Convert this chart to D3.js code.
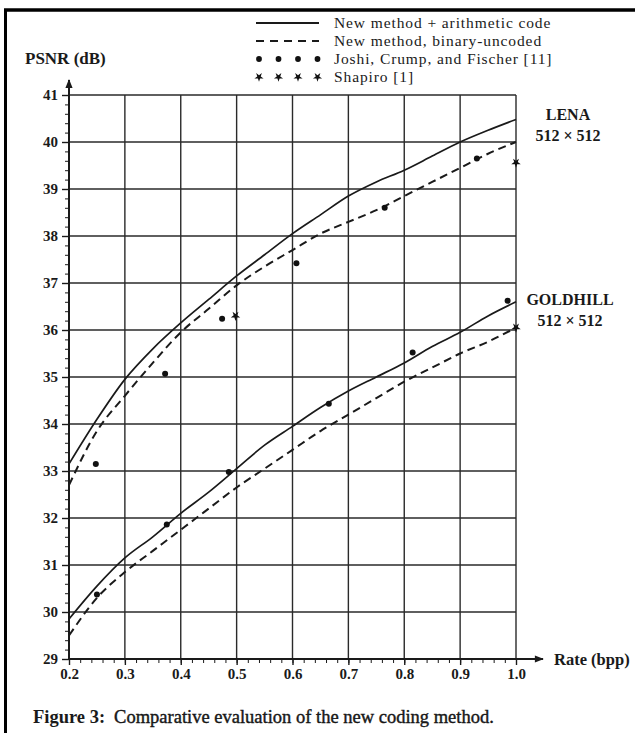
<!DOCTYPE html>
<html>
<head>
<meta charset="utf-8">
<script src="https://cdn.jsdelivr.net/npm/d3@7"></script>
<style>
body { margin: 0; background: #fff; }
svg { display: block; }
text { font-family: "Liberation Serif", "DejaVu Serif", serif; fill: #1a1a1a; }
</style>
</head>
<body>
<script>
// rate (bpp) samples for the two "new method" curves
var rates = [0.2, 0.25, 0.3, 0.35, 0.4, 0.45, 0.5, 0.55, 0.6, 0.65, 0.7, 0.75, 0.8, 0.85, 0.9, 0.95, 1.0];

var lenaArith = [33.15, 34.1, 34.95, 35.6, 36.15, 36.65, 37.15, 37.6, 38.05, 38.45, 38.85, 39.15, 39.4, 39.7, 40.0, 40.25, 40.48];
var lenaBinary = [32.7, 33.85, 34.6, 35.3, 35.95, 36.45, 36.95, 37.35, 37.7, 38.05, 38.3, 38.55, 38.85, 39.15, 39.45, 39.75, 40.0];
var goldArith = [29.85, 30.55, 31.15, 31.6, 32.1, 32.55, 33.05, 33.55, 33.95, 34.35, 34.7, 35.0, 35.3, 35.65, 35.95, 36.3, 36.6];
var goldBinary = [29.5, 30.3, 30.85, 31.3, 31.75, 32.2, 32.65, 33.05, 33.45, 33.85, 34.2, 34.55, 34.9, 35.2, 35.5, 35.75, 36.05];

// Joshi, Crump, and Fischer [11]
var joshiRates = [0.248, 0.372, 0.474, 0.607, 0.765, 0.93, 0.25, 0.375, 0.486, 0.665, 0.815, 0.985];
var joshiPsnr = [33.15, 35.07, 36.24, 37.42, 38.6, 39.65, 30.37, 31.86, 32.98, 34.43, 35.52, 36.62];

// Shapiro [1]
var shapiroRates = [0.498, 1.0, 1.0];
var shapiroPsnr = [36.3, 39.56, 36.05];

var xTicks = [0.2, 0.3, 0.4, 0.5, 0.6, 0.7, 0.8, 0.9, 1.0];
var yTicks = [29, 30, 31, 32, 33, 34, 35, 36, 37, 38, 39, 40, 41];

var legendLabels = ["New method + arithmetic code", "New method, binary-uncoded", "Joshi, Crump, and Fischer [11]", "Shapiro [1]"];
var legendTypes = ["solid", "dashed", "dots", "stars"];

var width = 635, height = 733;

var svg = d3.select("body").append("svg")//
.attr("width", width)//
.attr("height", height);

var x = d3.scaleLinear().domain([0.2, 1.0]).range([69, 516]);
var y = d3.scaleLinear().domain([29, 41]).range([659, 95]);

var ink = "#1a1a1a";

// page frame (top and left edges of the scan)
svg.append("line").attr("x1", 4).attr("x2", width).attr("y1", 10).attr("y2", 10)//
.attr("stroke", "#000").attr("stroke-width", 3.5);
svg.append("line").attr("x1", 5.5).attr("x2", 5.5).attr("y1", 10).attr("y2", height)//
.attr("stroke", "#000").attr("stroke-width", 3);

// grid
var grid = svg.append("g").attr("class", "grid");
grid.selectAll(".vgrid").data(xTicks.slice(1)).enter().append("line")//
.attr("class", "vgrid")//
.attr("x1", function(d) { return x(d); })//
.attr("x2", function(d) { return x(d); })//
.attr("y1", y(29))//
.attr("y2", y(41));
grid.selectAll(".hgrid").data(yTicks.slice(1)).enter().append("line")//
.attr("class", "hgrid")//
.attr("x1", x(0.2))//
.attr("x2", x(1.0))//
.attr("y1", function(d) { return y(d); })//
.attr("y2", function(d) { return y(d); });
grid.selectAll("line").attr("stroke", "#2a2a2a").attr("stroke-width", 1.4);

// minor ticks
var yMinor = svg.append("g").attr("transform", "translate(" + x(0.2) + ",0)")//
.call(d3.axisLeft(y).ticks(60).tickSize(4).tickFormat(""));
var xMinor = svg.append("g").attr("transform", "translate(0," + y(29) + ")")//
.call(d3.axisBottom(x).ticks(40).tickSize(4).tickFormat(""));
[yMinor, xMinor].forEach(function(g) {
	g.select(".domain").remove();
	g.selectAll("line").attr("stroke", ink).attr("stroke-width", 1);
});

// major ticks and labels
var yAxis = svg.append("g").attr("transform", "translate(" + x(0.2) + ",0)")//
.call(d3.axisLeft(y).tickValues(yTicks).tickSize(7).tickPadding(4).tickFormat(d3.format("d")));
var xAxis = svg.append("g").attr("transform", "translate(0," + y(29) + ")")//
.call(d3.axisBottom(x).tickValues(xTicks).tickSize(6).tickPadding(3).tickFormat(d3.format(".1f")));
[yAxis, xAxis].forEach(function(g) {
	g.select(".domain").remove();
	g.selectAll("line").attr("stroke", ink).attr("stroke-width", 1.4);
	g.selectAll("text")//
	.attr("font-family", "Liberation Serif, serif")//
	.attr("font-size", 15)//
	.attr("font-weight", "bold")//
	.attr("fill", "#2a2a2a");
});

// axis lines with arrows
svg.append("defs").append("marker")//
.attr("id", "arrow")//
.attr("viewBox", "0 0 10 10")//
.attr("refX", 9).attr("refY", 5)//
.attr("markerWidth", 10).attr("markerHeight", 9)//
.attr("markerUnits", "userSpaceOnUse")//
.attr("orient", "auto")//
.append("path").attr("d", "M0,1 L10,5 L0,9 Z").attr("fill", ink);

svg.append("line").attr("x1", x(0.2)).attr("x2", x(0.2)).attr("y1", y(29)).attr("y2", 80)//
.attr("stroke", ink).attr("stroke-width", 2).attr("marker-end", "url(#arrow)");
svg.append("line").attr("x1", x(0.2)).attr("x2", 543).attr("y1", y(29)).attr("y2", y(29))//
.attr("stroke", ink).attr("stroke-width", 2).attr("marker-end", "url(#arrow)");

svg.append("text").attr("x", 25).attr("y", 64)//
.attr("font-size", 17).attr("font-weight", "bold").attr("fill", "#333")//
.text("PSNR (dB)");
svg.append("text").attr("x", 554).attr("y", 665)//
.attr("font-size", 16.5).attr("font-weight", "bold").attr("fill", "#333")//
.text("Rate (bpp)");

// curves
var line = d3.line()//
.x(function(d) { return x(d[0]); })//
.y(function(d) { return y(d[1]); })//
.curve(d3.curveMonotoneX);

var curves = [
	{ values : lenaArith, dash : null },
	{ values : lenaBinary, dash : "8,5" },
	{ values : goldArith, dash : null },
	{ values : goldBinary, dash : "8,5" }
];

svg.selectAll(".curve").data(curves).enter().append("path")//
.attr("class", "curve")//
.attr("fill", "none")//
.attr("stroke", ink)//
.attr("stroke-width", function(d) { return d.dash ? 2 : 1.7; })//
.attr("stroke-dasharray", function(d) { return d.dash; })//
.attr("d", function(d) {
	return line(rates.map(function(r, i) { return [r, d.values[i]]; }));
});

// Joshi points
svg.selectAll(".joshi").data(d3.range(joshiRates.length)).enter().append("circle")//
.attr("class", "joshi")//
.attr("cx", function(i) { return x(joshiRates[i]); })//
.attr("cy", function(i) { return y(joshiPsnr[i]); })//
.attr("r", 3)//
.attr("fill", "#111");

// Shapiro points
var star = d3.symbol().type(d3.symbolStar).size(28);
svg.selectAll(".shapiro").data(d3.range(shapiroRates.length)).enter().append("path")//
.attr("class", "shapiro")//
.attr("transform", function(i) {
	return "translate(" + x(shapiroRates[i]) + "," + y(shapiroPsnr[i]) + ") rotate(180)";
})//
.attr("d", star)//
.attr("fill", "#111");

// image labels
var imageLabels = svg.append("g")//
.attr("font-size", 16)//
.attr("font-weight", "bold")//
.attr("text-anchor", "middle")//
.attr("fill", "#333");
imageLabels.append("text").attr("x", 568).attr("y", 120).text("LENA");
imageLabels.append("text").attr("x", 568).attr("y", 141).text("512 \u00d7 512");
imageLabels.append("text").attr("x", 570).attr("y", 305).text("GOLDHILL");
imageLabels.append("text").attr("x", 570).attr("y", 326).text("512 \u00d7 512");

// legend
var legend = svg.append("g").attr("class", "legend");
var legendRow = legend.selectAll(".row").data(legendTypes).enter().append("g")//
.attr("class", "row")//
.attr("transform", function(d, i) { return "translate(0," + (23 + i * 18) + ")"; });

legendRow.filter(function(d) { return d == "solid" || d == "dashed"; }).append("line")//
.attr("x1", 256).attr("x2", 319).attr("y1", 0).attr("y2", 0)//
.attr("stroke", ink).attr("stroke-width", 1.8)//
.attr("stroke-dasharray", function(d) { return d == "dashed" ? "8,6" : null; });

legendRow.filter(function(d) { return d == "dots" || d == "stars"; })//
.selectAll(".sym").data(function(d) { return [0, 1, 2, 3].map(function(k) { return { k : k, t : d }; }); })//
.enter().append("path")//
.attr("transform", function(d) { return "translate(" + (259 + d.k * 19.5) + ",0)" + (d.t == "stars" ? " rotate(180)" : ""); })//
.attr("d", function(d) {
	return d.t == "dots" ? d3.symbol().type(d3.symbolCircle).size(26)() : d3.symbol().type(d3.symbolStar).size(26)();
})//
.attr("fill", "#111");

legendRow.append("text")//
.attr("x", 334).attr("y", 5)//
.attr("font-size", 15.5)//
.attr("letter-spacing", 0.9)//
.attr("fill", "#2a2a2a")//
.text(function(d, i) { return legendLabels[i]; });

// caption
var caption = svg.append("text").attr("x", 33).attr("y", 723).attr("font-size", 18.5).attr("fill", "#111");
caption.append("tspan").attr("font-weight", "bold").text("Figure 3:");
caption.append("tspan").attr("dx", 9).attr("stroke", "#111").attr("stroke-width", 0.4)//
.text("Comparative evaluation of the new coding method.");
</script>
</body>
</html>
